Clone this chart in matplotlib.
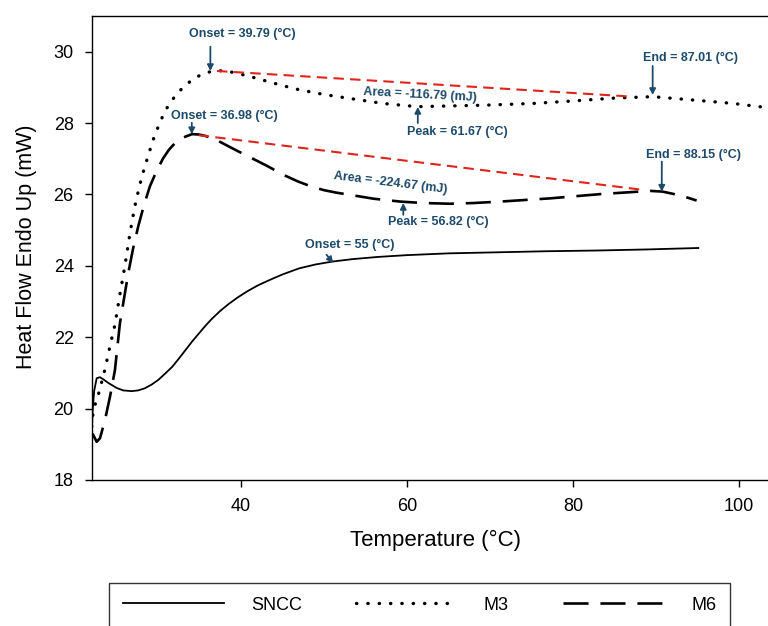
import matplotlib
matplotlib.use("Agg")
import matplotlib.pyplot as plt

plt.rcParams['font.family'] = ['Liberation Sans', 'DejaVu Sans']

# ---------------- data ----------------
sncc_T = [22.0, 22.1, 22.3, 22.6, 23.0, 23.4, 24.0, 25.0, 25.8, 26.8, 27.6, 28.4, 29.2, 30.0, 30.8,
          31.7, 32.5, 33.3, 34.1, 34.9, 35.7, 36.5, 37.5, 38.5, 39.5, 40.7, 42.0, 43.5, 45.0,
          47.0, 49.0, 51.0, 53.5, 56.5, 60.0, 65.0, 71.0, 77.0, 83.0, 89.0, 95.1]
sncc_Y = [19.2, 19.9, 20.5, 20.85, 20.88, 20.82, 20.72, 20.58, 20.51, 20.49, 20.51, 20.57, 20.67, 20.8, 20.97,
          21.17, 21.4, 21.64, 21.88, 22.1, 22.32, 22.52, 22.74, 22.93, 23.1, 23.28, 23.45, 23.61, 23.76,
          23.93, 24.04, 24.12, 24.19, 24.25, 24.3, 24.35, 24.38, 24.41, 24.43, 24.46, 24.5]

m3_T = [22.0, 22.2, 22.8, 23.6, 24.2, 24.8, 25.4, 26.0, 26.6, 27.2, 27.8, 28.4, 29.4, 30.1, 30.8, 31.4,
        32.0, 33.0, 34.1, 35.2, 36.3, 37.8, 39.3, 41.3, 43.3, 45.0, 46.9, 50.0, 53.1, 57.1, 61.2, 65.2,
        69.2, 75.2, 80.0, 85.0, 89.6, 95.3, 99.3, 103.5]
m3_Y = [19.5, 19.97, 20.39, 21.1, 21.75, 22.35, 23.2, 24.0, 24.9, 25.67, 26.28, 26.78, 27.53, 27.95, 28.32, 28.55,
        28.74, 29.0, 29.21, 29.36, 29.44, 29.47, 29.41, 29.29, 29.16, 29.05, 28.94, 28.8, 28.69, 28.55, 28.46, 28.48,
        28.5, 28.55, 28.62, 28.7, 28.74, 28.63, 28.55, 28.43]

m6_T = [22.1, 22.6, 23.0, 23.6, 24.2, 24.8, 25.4, 26.4, 27.0, 27.6, 28.3, 29.0, 29.8, 30.6, 31.3, 32.0,
        32.7, 33.3, 34.1, 34.9, 35.7, 37.5, 39.3, 41.1, 43.3, 45.0, 46.9, 48.5, 50.0, 51.5, 53.1, 56.0,
        59.2, 62.0, 65.2, 68.0, 71.2, 77.2, 83.3, 89.3, 90.8, 93.0, 94.9]
m6_Y = [19.3, 19.07, 19.17, 19.68, 20.33, 21.08, 22.39, 23.79, 24.5, 25.1, 25.7, 26.22, 26.65, 27.01, 27.25, 27.43,
        27.56, 27.62, 27.69, 27.68, 27.64, 27.47, 27.25, 27.04, 26.78, 26.56, 26.36, 26.22, 26.12, 26.05, 25.99, 25.88,
        25.80, 25.76, 25.74, 25.76, 25.80, 25.89, 26.01, 26.10, 26.08, 25.97, 25.83]

# baselines (red dashed)
m3_base_T = [37.1, 87.2]
m3_base_Y = [29.46, 28.74]
m6_base_T = [34.9, 88.4]
m6_base_Y = [27.66, 26.13]

series_labels = ["SNCC", "M3", "M6"]
x_ticks = [40, 60, 80, 100]
y_ticks = [18, 20, 22, 24, 26, 28, 30]

# annotations: text, text pos, arrow tail, arrow tip
annotations = [
    ("Onset = 39.79 (°C)", (40.2, 30.5), (36.3, 30.14), (36.3, 29.46)),
    ("Onset = 36.98 (°C)", (38.0, 28.2), (34.06, 28.01), (34.06, 27.69)),
    ("Peak = 61.67 (°C)", (66.1, 27.76), (61.3, 28.0), (61.3, 28.45)),
    ("Peak = 56.82 (°C)", (63.8, 25.24), (59.55, 25.43), (59.55, 25.76)),
    ("Onset = 55 (°C)", (53.1, 24.59), (50.3, 24.31), (51.1, 24.08)),
    ("End = 87.01 (°C)", (94.2, 29.82), (89.6, 29.6), (89.6, 28.79)),
    ("End = 88.15 (°C)", (94.5, 27.11), (90.7, 26.92), (90.7, 26.08)),
]
area_labels = [
    ("Area = -116.79 (mJ)", (61.6, 28.79), -3),
    ("Area = -224.67 (mJ)", (58.0, 26.33), -7),
]

# ---------------- figure ----------------
W, H = 768, 626
fig = plt.figure(figsize=(W / 100, H / 100), dpi=100)
ax_left, ax_right, ax_top, ax_bot = 91.7, 768, 16, 480
ax = fig.add_axes([ax_left / W, 1 - ax_bot / H, (ax_right - ax_left) / W, (ax_bot - ax_top) / H])

l1, = ax.plot(sncc_T, sncc_Y, color='black', lw=1.3, ls='-', label=series_labels[0])
l2, = ax.plot(m3_T, m3_Y, color='black', lw=2.4, ls=(0, (0.1, 3.3)), dash_capstyle='round',
              label=series_labels[1])
l3, = ax.plot(m6_T, m6_Y, color='black', lw=1.9, ls=(0, (9.5, 4.5)), label=series_labels[2])

ax.plot(m3_base_T, m3_base_Y, color='#e0241c', lw=1.5, ls=(0, (5, 3)))
ax.plot(m6_base_T, m6_base_Y, color='#e0241c', lw=1.5, ls=(0, (5, 3)))

ann_color = '#1d4a6b'
for txt, tpos, tail, tip in annotations:
    ax.text(tpos[0], tpos[1], txt, fontsize=9, fontweight='bold', color=ann_color,
            ha='center', va='center')
    ax.annotate('', xy=tip, xytext=tail,
                arrowprops=dict(arrowstyle='-|>,head_length=0.35,head_width=0.18',
                                color=ann_color, lw=1.3, shrinkA=0, shrinkB=0))
for txt, tpos, rot in area_labels:
    ax.text(tpos[0], tpos[1], txt, fontsize=9, fontweight='bold', color=ann_color,
            ha='center', va='center', rotation=rot, rotation_mode='anchor')

ax.set_xlim(22.0, 103.5)
ax.set_ylim(18, 31.0)
ax.set_xticks(x_ticks)
ax.set_yticks(y_ticks)
ax.tick_params(axis='both', direction='out', length=5, width=1.0, labelsize=13, pad=8)
ax.spines['right'].set_visible(False)
for s in ['left', 'top', 'bottom']:
    ax.spines[s].set_linewidth(1.0)

ax.set_xlabel("Temperature (°C)", fontsize=16)
ax.xaxis.set_label_coords((436 - ax_left) / (ax_right - ax_left), (ax_bot - 540) / (ax_bot - ax_top))
ax.xaxis.label.set_va('center')
ax.set_ylabel("Heat Flow Endo Up (mW)", fontsize=15.5)
ax.yaxis.set_label_coords((26 - ax_left) / (ax_right - ax_left), (ax_bot - 246.5) / (ax_bot - ax_top))
ax.yaxis.label.set_va('center')

# legend box below axes
lx0, lx1, ly0, ly1 = 109, 730, 583, 640
leg = fig.legend(handles=[l1, l2, l3], loc='upper left', ncol=3, mode='expand',
                 bbox_to_anchor=(lx0 / W, 1 - ly1 / H, (lx1 - lx0) / W, (ly1 - ly0) / H),
                 borderaxespad=0, fontsize=13, handlelength=5.6, handletextpad=1.5,
                 borderpad=0.75, frameon=True, fancybox=False, edgecolor='black')
leg.get_frame().set_linewidth(1.0)

fig.savefig("out.png", dpi=100)
